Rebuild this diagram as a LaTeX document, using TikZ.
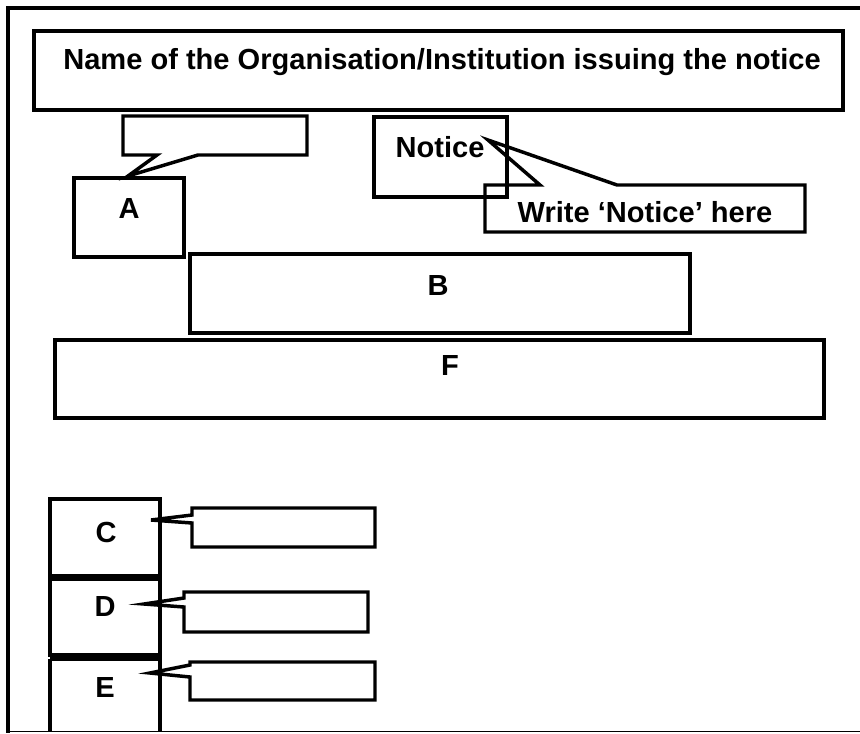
\documentclass[tikz,border=0pt]{standalone}
\usepackage{fontspec}
\setmainfont{Liberation Sans}
\tikzset{every picture/.style={line width=2.6pt}}
\tikzset{lbl/.style={anchor=base,font=\fontsize{21.8}{26}\selectfont\bfseries,inner sep=0pt}}

\begin{document}
\begin{tikzpicture}[x=0.75pt,y=0.75pt,yscale=-1,xscale=1]
	\useasboundingbox (0,0) rectangle (860,733);
	%Straight Lines: outer frame
	\draw [line cap=rect]  (862,8) -- (8,8) -- (8,731.5) ;
	\draw [line width=0.9pt]  (8,731.5) -- (862,731.5) ;
	%Shape: Rectangle (title)
	\draw   (34,31) rectangle (843,110) ;
	%Shape: Callout (A)
	\draw [line join=miter]  (123,116) -- (307,116) -- (307,155) -- (198,155) -- (128,176) -- (157,155) -- (123,155) -- cycle ;
	%Shape: Rectangle (A)
	\draw   (74,178) rectangle (184,257) ;
	%Shape: Rectangle (Notice)
	\draw   (374,117) rectangle (507,197) ;
	%Shape: Callout (Write Notice)
	\draw [line join=miter]  (485,185) -- (540,185) -- (488,140) -- (617,185) -- (805,185) -- (805,232) -- (485,232) -- cycle ;
	%Shape: Rectangle (B)
	\draw   (190,254) rectangle (690,333) ;
	%Shape: Rectangle (F)
	\draw   (55,340) rectangle (824,418) ;
	%Shape: Rectangle (C)
	\draw   (50,499) rectangle (160,576) ;
	%Shape: Rectangle (D)
	\draw   (50,579) rectangle (160,655) ;
	%Shape: Rectangle (E)
	\draw   (50,659) -- (160,659) -- (160,731) (50,659) -- (50,731) ;
	%Shape: Callout (C)
	\draw [line join=miter]  (192,508) -- (375,508) -- (375,547) -- (192,547) -- (192,523) -- (151,520) -- (192,515) -- cycle ;
	%Shape: Callout (D)
	\draw [line join=miter]  (184,592) -- (368,592) -- (368,632) -- (184,632) -- (184,607) -- (144,604) -- (184,598) -- cycle ;
	%Shape: Callout (E)
	\draw [line join=miter]  (190,662) -- (375,662) -- (375,700) -- (190,700) -- (190,677) -- (150,673) -- (190,665) -- cycle ;

	% Text Node
	\draw (442,69.5) node [lbl] (title) {Name of the Organisation/Institution issuing the notice};
	% Text Node
	\draw (440,157) node [lbl] (notice) {Notice};
	% Text Node
	\draw (645,222) node [lbl] (write) {Write ‘Notice’ here};
	% Text Node
	\draw (129,218) node [lbl] (a) {A};
	% Text Node
	\draw (438,295) node [lbl] (b) {B};
	% Text Node
	\draw (450,375) node [lbl] (f) {F};
	% Text Node
	\draw (106,542) node [lbl] (c) {C};
	% Text Node
	\draw (105,616) node [lbl] (d) {D};
	% Text Node
	\draw (105,697) node [lbl] (e) {E};
\end{tikzpicture}
\end{document}
